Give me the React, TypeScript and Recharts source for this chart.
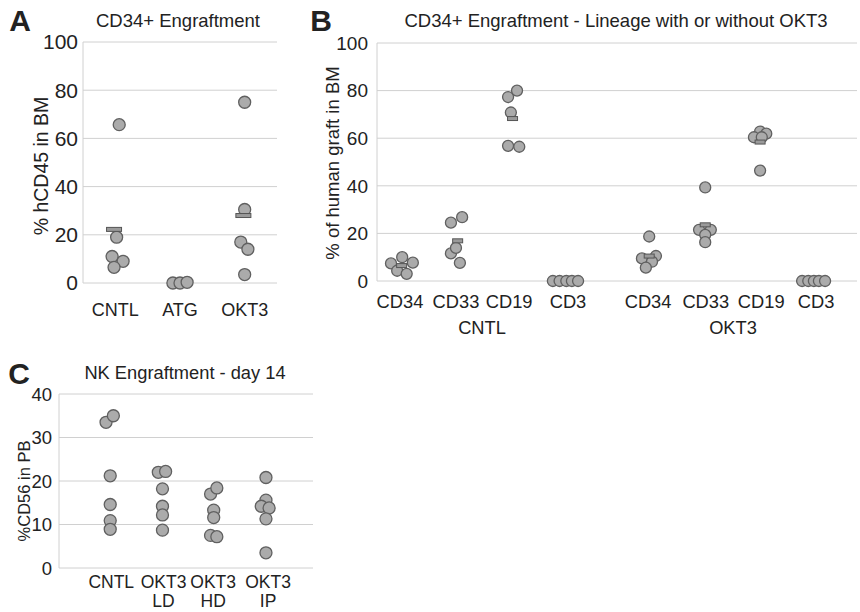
import React from "react";
import { ScatterChart, Scatter, XAxis, YAxis, CartesianGrid } from "recharts";

const FONT = "'Liberation Sans', Arial, Helvetica, sans-serif";
const DOT_FILL = "#ababab";
const DOT_STROKE = "#606060";
const GRID = "#d0d0d0";

// ---- Panel A: CD34+ Engraftment (% hCD45 in BM)
const aCategories = ["CNTL", "ATG", "OKT3"];
const aTicks = [1, 2, 3];
const aCntl = [
    { x: 1.06, y: 65.7 },
    { x: 1.02, y: 19 },
    { x: 0.95, y: 11 },
    { x: 1.12, y: 9 },
    { x: 0.98, y: 6.5 },
];
const aAtg = [
    { x: 1.89, y: 0 },
    { x: 2.0, y: 0 },
    { x: 2.11, y: 0.3 },
];
const aOkt3 = [
    { x: 3.0, y: 75 },
    { x: 3.0, y: 30.5 },
    { x: 2.94, y: 17 },
    { x: 3.05, y: 14 },
    { x: 3.0, y: 3.5 },
];

// ---- Panel B: lineage with or without OKT3 (% of human graft in BM)
const bCategories = ["CD34", "CD33", "CD19", "CD3", "CD34", "CD33", "CD19", "CD3"];
const bTicks = [1, 2, 2.95, 4, 5.43, 6.46, 7.45, 8.43];
const bGroups = ["CNTL", "OKT3"];
const bCntlCd34 = [
    { x: 0.84, y: 7.4 },
    { x: 0.95, y: 4.3 },
    { x: 1.04, y: 10 },
    { x: 1.12, y: 3 },
    { x: 1.23, y: 7.7 },
];
const bCntlCd33 = [
    { x: 1.91, y: 24.5 },
    { x: 2.11, y: 26.8 },
    { x: 1.91, y: 11.6 },
    { x: 2.0, y: 13.9 },
    { x: 2.07, y: 7.6 },
];
const bCntlCd19 = [
    { x: 2.93, y: 77.3 },
    { x: 3.09, y: 80 },
    { x: 2.98, y: 70.8 },
    { x: 2.93, y: 56.8 },
    { x: 3.13, y: 56.4 },
];
const bCntlCd3 = [
    { x: 3.73, y: 0 },
    { x: 3.85, y: 0 },
    { x: 3.97, y: 0 },
    { x: 4.07, y: 0 },
    { x: 4.18, y: 0 },
];
const bOktCd34 = [
    { x: 5.45, y: 18.7 },
    { x: 5.32, y: 9.5 },
    { x: 5.57, y: 10.5 },
    { x: 5.5, y: 8.1 },
    { x: 5.39, y: 5.6 },
];
const bOktCd33 = [
    { x: 6.45, y: 39.3 },
    { x: 6.34, y: 21.5 },
    { x: 6.55, y: 21.5 },
    { x: 6.45, y: 19.4 },
    { x: 6.45, y: 16.3 },
];
const bOktCd19 = [
    { x: 7.43, y: 62.8 },
    { x: 7.32, y: 60.4 },
    { x: 7.54, y: 61.9 },
    { x: 7.46, y: 60.4 },
    { x: 7.43, y: 46.4 },
];
const bOktCd3 = [
    { x: 8.18, y: 0 },
    { x: 8.29, y: 0 },
    { x: 8.39, y: 0 },
    { x: 8.48, y: 0 },
    { x: 8.59, y: 0 },
];

// ---- Panel C: NK Engraftment - day 14 (%CD56 in PB)
const cCategories = [["CNTL"], ["OKT3", "LD"], ["OKT3", "HD"], ["OKT3", "IP"]];
const cTicks = [1, 2, 2.95, 4];
const cCntl = [
    { x: 0.9, y: 33.5 },
    { x: 1.04, y: 35 },
    { x: 0.98, y: 21.2 },
    { x: 0.98, y: 14.6 },
    { x: 0.98, y: 10.9 },
    { x: 0.98, y: 8.9 },
];
const cLd = [
    { x: 1.9, y: 22 },
    { x: 2.04, y: 22.2 },
    { x: 1.98, y: 18.2 },
    { x: 1.98, y: 14.2 },
    { x: 1.98, y: 12.2 },
    { x: 1.98, y: 8.7 },
];
const cHd = [
    { x: 2.9, y: 17 },
    { x: 3.02, y: 18.4 },
    { x: 2.96, y: 13.3 },
    { x: 2.96, y: 11.6 },
    { x: 2.9, y: 7.5 },
    { x: 3.02, y: 7.2 },
];
const cIp = [
    { x: 3.96, y: 20.8 },
    { x: 3.96, y: 15.6 },
    { x: 3.87, y: 14.2 },
    { x: 4.02, y: 13.8 },
    { x: 3.96, y: 11.3 },
    { x: 3.96, y: 3.5 },
];

const mean = (pts: { y: number }[]) => pts.reduce((s, p) => s + p.y, 0) / pts.length;
const meanPoint = (pts: { y: number }[], x: number) => ({ x, y: mean(pts) });

const dot = (r: number) => (props: any) => (
    <circle cx={props.cx} cy={props.cy} r={r} fill={DOT_FILL} stroke={DOT_STROKE} strokeWidth={1.3} />
);

const meanBar = (w: number) => (props: any) => (
    <rect x={props.cx - w / 2} y={props.cy - 2} width={w} height={4} fill="#9a9a9a" stroke="#555555" strokeWidth={1} />
);

const tickStyle = (size: number) => ({ fill: "#222", fontSize: size, fontFamily: FONT });

const Abs = ({ x, y, size, bold, rotate, children }: any) => (
    <div
        style={{
            position: "absolute",
            left: x,
            top: y,
            transform: `translate(-50%, -50%)${rotate ? " rotate(-90deg)" : ""}`,
            whiteSpace: "nowrap",
            fontFamily: FONT,
            fontSize: size,
            fontWeight: bold ? 700 : 400,
            color: "#222",
            lineHeight: 1,
        }}
    >
        {children}
    </div>
);

// two-line category labels for panel C
const CTick = (props: any) => {
    const { x, y, payload } = props;
    const idx = cTicks.indexOf(payload.value);
    const lines = cCategories[idx] || [];
    return (
        <g>
            {lines.map((l, i) => (
                <text key={i} x={x} y={y + 12 + i * 18.5} textAnchor="middle" fill="#222" fontSize={17.5} fontFamily={FONT}>
                    {l}
                </text>
            ))}
        </g>
    );
};

const bSeries = [bCntlCd34, bCntlCd33, bCntlCd19, bCntlCd3, bOktCd34, bOktCd33, bOktCd19, bOktCd3];

export default function App() {
    return (
        <div style={{ position: "fixed", left: 0, top: 0, width: 860, height: 612, background: "#fff", overflow: "hidden" }}>
            {/* Panel A */}
            <div style={{ position: "absolute", left: 0, top: 0 }}>
                <ScatterChart width={295} height={335} margin={{ top: 42, right: 18, bottom: 22, left: 0 }}>
                    <CartesianGrid horizontal vertical={false} stroke={GRID} />
                    <XAxis
                        type="number"
                        dataKey="x"
                        domain={[0.5, 3.5]}
                        ticks={aTicks}
                        tickFormatter={(v) => aCategories[aTicks.indexOf(v)] ?? ""}
                        axisLine={false}
                        tickLine={false}
                        tick={tickStyle(18)}
                        tickMargin={14}
                        height={30}
                        interval={0}
                    />
                    <YAxis
                        type="number"
                        dataKey="y"
                        domain={[0, 100]}
                        ticks={[0, 20, 40, 60, 80, 100]}
                        axisLine={{ stroke: GRID }}
                        tickLine={false}
                        tickSize={0}
                        tick={tickStyle(21)}
                        tickMargin={5}
                        width={83}
                    />
                    <Scatter data={aCntl} shape={dot(6)} isAnimationActive={false} />
                    <Scatter data={aAtg} shape={dot(6)} isAnimationActive={false} />
                    <Scatter data={aOkt3} shape={dot(6)} isAnimationActive={false} />
                    <Scatter
                        data={[meanPoint(aCntl, 0.98), meanPoint(aOkt3, 2.98)]}
                        shape={meanBar(15)}
                        isAnimationActive={false}
                    />
                </ScatterChart>
            </div>
            <Abs x={20} y={21} size={30} bold>A</Abs>
            <Abs x={178} y={21} size={18.5}>CD34+ Engraftment</Abs>
            <Abs x={42} y={166} size={19.5} rotate>% hCD45 in BM</Abs>

            {/* Panel B */}
            <div style={{ position: "absolute", left: 300, top: 0 }}>
                <ScatterChart width={560} height={340} margin={{ top: 43, right: 3, bottom: 29, left: 0 }}>
                    <CartesianGrid horizontal vertical={false} stroke={GRID} />
                    <XAxis
                        type="number"
                        dataKey="x"
                        domain={[0.59, 9.16]}
                        ticks={bTicks}
                        tickFormatter={(v) => bCategories[bTicks.indexOf(v)] ?? ""}
                        axisLine={false}
                        tickLine={false}
                        tick={tickStyle(18.3)}
                        tickMargin={8}
                        height={30}
                        interval={0}
                    />
                    <YAxis
                        type="number"
                        dataKey="y"
                        domain={[0, 100]}
                        ticks={[0, 20, 40, 60, 80, 100]}
                        axisLine={{ stroke: GRID }}
                        tickLine={false}
                        tickSize={0}
                        tick={tickStyle(19)}
                        tickMargin={9}
                        width={77}
                    />
                    {bSeries.map((d, i) => (
                        <Scatter key={i} data={d} shape={dot(5.5)} isAnimationActive={false} />
                    ))}
                    <Scatter
                        data={[
                            meanPoint(bCntlCd34, 1.03),
                            meanPoint(bCntlCd33, 2.03),
                            meanPoint(bCntlCd19, 3.01),
                            meanPoint(bOktCd34, 5.45),
                            meanPoint(bOktCd33, 6.45),
                            meanPoint(bOktCd19, 7.43),
                        ]}
                        shape={meanBar(10)}
                        isAnimationActive={false}
                    />
                </ScatterChart>
            </div>
            <Abs x={321} y={21} size={30} bold>B</Abs>
            <Abs x={616} y={21} size={18.5}>CD34+ Engraftment - Lineage with or without OKT3</Abs>
            <Abs x={333} y={163} size={18.5} rotate>% of human graft in BM</Abs>
            <Abs x={482} y={328} size={18.3}>{bGroups[0]}</Abs>
            <Abs x={733} y={328} size={18.3}>{bGroups[1]}</Abs>

            {/* Panel C */}
            <div style={{ position: "absolute", left: 0, top: 355 }}>
                <ScatterChart width={330} height={257} margin={{ top: 39, right: 17, bottom: 4, left: 0 }}>
                    <CartesianGrid horizontal vertical={false} stroke={GRID} />
                    <XAxis
                        type="number"
                        dataKey="x"
                        domain={[0, 4.86]}
                        ticks={cTicks}
                        tick={<CTick />}
                        axisLine={false}
                        tickLine={false}
                        height={40}
                        interval={0}
                    />
                    <YAxis
                        type="number"
                        dataKey="y"
                        domain={[0, 40]}
                        ticks={[0, 10, 20, 30, 40]}
                        axisLine={{ stroke: GRID }}
                        tickLine={false}
                        tickSize={0}
                        tick={tickStyle(18.5)}
                        tickMargin={7}
                        width={59}
                    />
                    <Scatter data={cCntl} shape={dot(6)} isAnimationActive={false} />
                    <Scatter data={cLd} shape={dot(6)} isAnimationActive={false} />
                    <Scatter data={cHd} shape={dot(6)} isAnimationActive={false} />
                    <Scatter data={cIp} shape={dot(6)} isAnimationActive={false} />
                </ScatterChart>
            </div>
            <Abs x={19} y={374} size={30} bold>C</Abs>
            <Abs x={185} y={373} size={18.3}>NK Engraftment - day 14</Abs>
            <Abs x={24} y={491} size={16.5} rotate>%CD56 in PB</Abs>
        </div>
    );
}
